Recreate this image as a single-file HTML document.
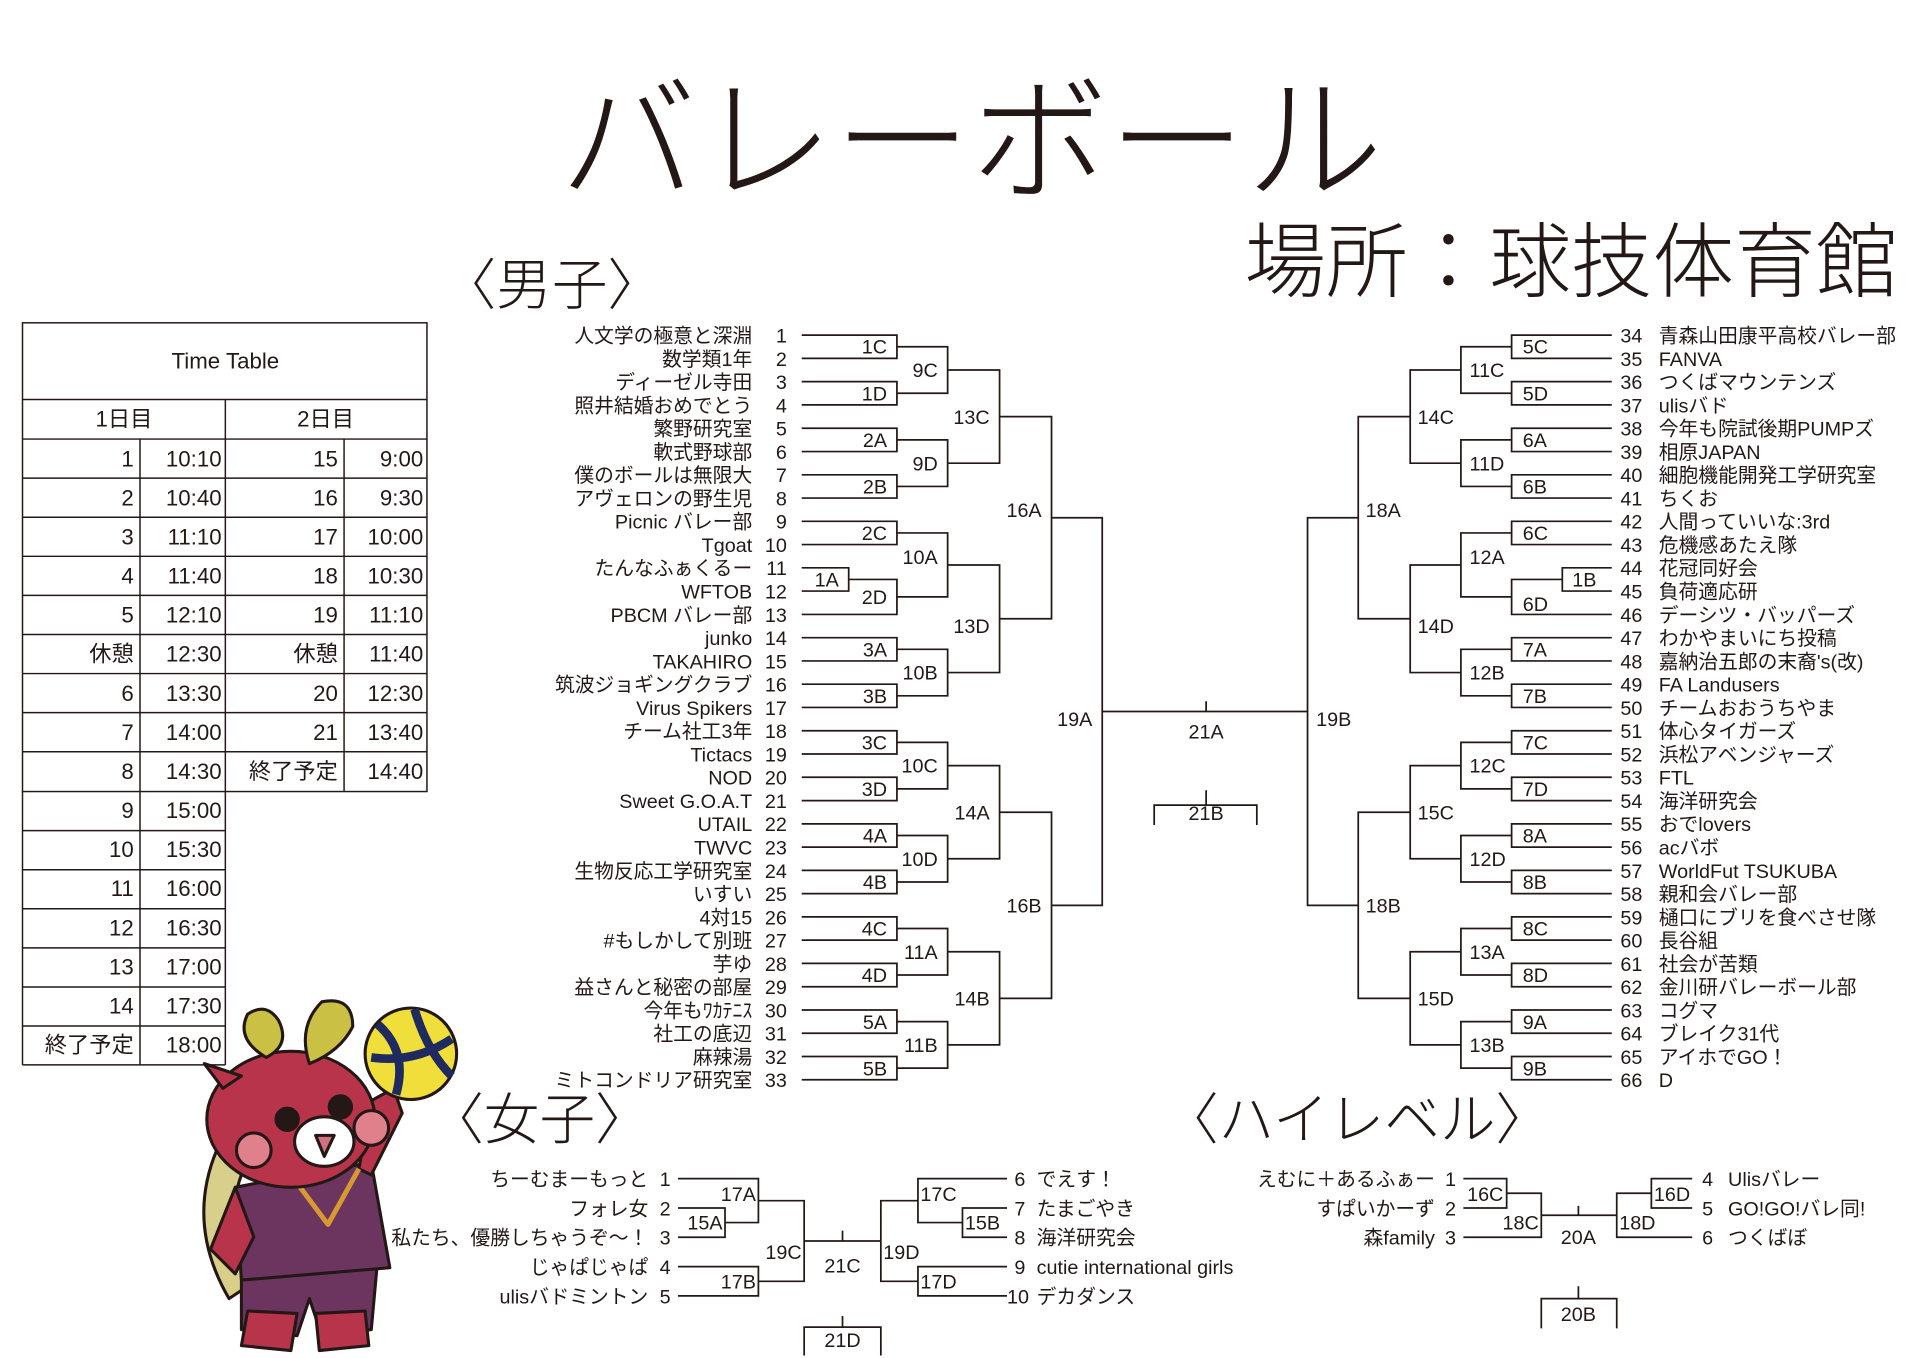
<!DOCTYPE html>
<html><head><meta charset="utf-8"><style>
html,body{margin:0;padding:0;background:#fff}
svg{display:block}
text{font-family:"Liberation Sans Narrow","Liberation Sans","Noto Sans CJK JP",sans-serif;fill:#231815}
.t{font-size:16px}
.l{font-size:16px}
.b{fill:none;stroke:#231815;stroke-width:1.4}
.tt{font-size:18px}
</style></head><body>
<svg width="1920" height="1358" viewBox="0 0 1552 1098" xmlns="http://www.w3.org/2000/svg">
<text x="785" y="153" text-anchor="middle" style="font-size:111px;font-family:'Noto Sans CJK JP',sans-serif;font-weight:300">バレーボール</text>
<text x="1006" y="235" style="font-size:66px;font-family:'Noto Sans CJK JP',sans-serif;font-weight:300">場所：球技体育館</text>
<text x="356" y="246" style="font-size:45px;font-family:'Noto Sans CJK JP',sans-serif;font-weight:300">〈男子〉</text>
<text x="346" y="921" style="font-size:45px;font-family:'Noto Sans CJK JP',sans-serif;font-weight:300">〈女子〉</text>
<text x="940" y="921" style="font-size:45px;font-family:'Noto Sans CJK JP',sans-serif;font-weight:300">〈ハイレベル〉</text>

<!-- Time table -->
<g class="b" style="stroke-width:1.2">
<rect x="18" y="261" width="327" height="379"/>
<line x1="18" y1="323" x2="345" y2="323"/>
<line x1="18" y1="355" x2="345" y2="355"/>
<line x1="182" y1="323" x2="182" y2="861"/>
<line x1="113" y1="355" x2="113" y2="861"/>
<line x1="278" y1="355" x2="278" y2="640"/>
<line x1="18" y1="640" x2="18" y2="861"/>
<line x1="18" y1="861" x2="182" y2="861"/>
<path d="M18 386.6H345M18 418.2H345M18 449.8H345M18 481.4H345M18 513H345M18 544.6H345M18 576.2H345M18 607.8H345M18 671.6H182M18 703.2H182M18 734.8H182M18 766.4H182M18 798H182M18 829.6H182"/>
</g>
<g class="tt">
<text x="182" y="298" text-anchor="middle">Time Table</text>
<text x="100" y="345" text-anchor="middle">1日目</text>
<text x="263" y="345" text-anchor="middle">2日目</text>
<g text-anchor="end">
<text x="108" y="377">1</text><text x="179" y="377">10:10</text><text x="273" y="377">15</text><text x="342" y="377">9:00</text>
<text x="108" y="408.6">2</text><text x="179" y="408.6">10:40</text><text x="273" y="408.6">16</text><text x="342" y="408.6">9:30</text>
<text x="108" y="440.2">3</text><text x="179" y="440.2">11:10</text><text x="273" y="440.2">17</text><text x="342" y="440.2">10:00</text>
<text x="108" y="471.8">4</text><text x="179" y="471.8">11:40</text><text x="273" y="471.8">18</text><text x="342" y="471.8">10:30</text>
<text x="108" y="503.4">5</text><text x="179" y="503.4">12:10</text><text x="273" y="503.4">19</text><text x="342" y="503.4">11:10</text>
<text x="108" y="535">休憩</text><text x="179" y="535">12:30</text><text x="273" y="535">休憩</text><text x="342" y="535">11:40</text>
<text x="108" y="566.6">6</text><text x="179" y="566.6">13:30</text><text x="273" y="566.6">20</text><text x="342" y="566.6">12:30</text>
<text x="108" y="598.2">7</text><text x="179" y="598.2">14:00</text><text x="273" y="598.2">21</text><text x="342" y="598.2">13:40</text>
<text x="108" y="629.8">8</text><text x="179" y="629.8">14:30</text><text x="273" y="629.8">終了予定</text><text x="342" y="629.8">14:40</text>
<text x="108" y="661.4">9</text><text x="179" y="661.4">15:00</text>
<text x="108" y="693">10</text><text x="179" y="693">15:30</text>
<text x="108" y="724.6">11</text><text x="179" y="724.6">16:00</text>
<text x="108" y="756.2">12</text><text x="179" y="756.2">16:30</text>
<text x="108" y="787.8">13</text><text x="179" y="787.8">17:00</text>
<text x="108" y="819.4">14</text><text x="179" y="819.4">17:30</text>
<text x="108" y="851">終了予定</text><text x="179" y="851">18:00</text>
</g></g>

<!-- Men left names -->
<g class="t" text-anchor="end">
<text x="608" y="277">人文学の極意と深淵</text><text x="636" y="277">1</text>
<text x="608" y="295.8">数学類1年</text><text x="636" y="295.8">2</text>
<text x="608" y="314.6">ディーゼル寺田</text><text x="636" y="314.6">3</text>
<text x="608" y="333.4">照井結婚おめでとう</text><text x="636" y="333.4">4</text>
<text x="608" y="352.3">繁野研究室</text><text x="636" y="352.3">5</text>
<text x="608" y="371.1">軟式野球部</text><text x="636" y="371.1">6</text>
<text x="608" y="389.9">僕のボールは無限大</text><text x="636" y="389.9">7</text>
<text x="608" y="408.7">アヴェロンの野生児</text><text x="636" y="408.7">8</text>
<text x="608" y="427.5">Picnic バレー部</text><text x="636" y="427.5">9</text>
<text x="608" y="446.3">Tgoat</text><text x="636" y="446.3">10</text>
<text x="608" y="465.1">たんなふぁくるー</text><text x="636" y="465.1">11</text>
<text x="608" y="483.9">WFTOB</text><text x="636" y="483.9">12</text>
<text x="608" y="502.8">PBCM バレー部</text><text x="636" y="502.8">13</text>
<text x="608" y="521.6">junko</text><text x="636" y="521.6">14</text>
<text x="608" y="540.4">TAKAHIRO</text><text x="636" y="540.4">15</text>
<text x="608" y="559.2">筑波ジョギングクラブ</text><text x="636" y="559.2">16</text>
<text x="608" y="578">Virus Spikers</text><text x="636" y="578">17</text>
<text x="608" y="596.8">チーム社工3年</text><text x="636" y="596.8">18</text>
<text x="608" y="615.6">Tictacs</text><text x="636" y="615.6">19</text>
<text x="608" y="634.4">NOD</text><text x="636" y="634.4">20</text>
<text x="608" y="653.3">Sweet G.O.A.T</text><text x="636" y="653.3">21</text>
<text x="608" y="672.1">UTAIL</text><text x="636" y="672.1">22</text>
<text x="608" y="690.9">TWVC</text><text x="636" y="690.9">23</text>
<text x="608" y="709.7">生物反応工学研究室</text><text x="636" y="709.7">24</text>
<text x="608" y="728.5">いすい</text><text x="636" y="728.5">25</text>
<text x="608" y="747.3">4対15</text><text x="636" y="747.3">26</text>
<text x="608" y="766.1">#もしかして別班</text><text x="636" y="766.1">27</text>
<text x="608" y="784.9">芋ゆ</text><text x="636" y="784.9">28</text>
<text x="608" y="803.8">益さんと秘密の部屋</text><text x="636" y="803.8">29</text>
<text x="608" y="822.6">今年もﾜｶﾃﾆｽ</text><text x="636" y="822.6">30</text>
<text x="608" y="841.4">社工の底辺</text><text x="636" y="841.4">31</text>
<text x="608" y="860.2">麻辣湯</text><text x="636" y="860.2">32</text>
<text x="608" y="879">ミトコンドリア研究室</text><text x="636" y="879">33</text>
</g>
<!-- Men right names -->
<g class="t">
<text x="1310" y="277">34</text><text x="1341" y="277">青森山田康平高校バレー部</text>
<text x="1310" y="295.8">35</text><text x="1341" y="295.8">FANVA</text>
<text x="1310" y="314.6">36</text><text x="1341" y="314.6">つくばマウンテンズ</text>
<text x="1310" y="333.4">37</text><text x="1341" y="333.4">ulisバド</text>
<text x="1310" y="352.3">38</text><text x="1341" y="352.3">今年も院試後期PUMPズ</text>
<text x="1310" y="371.1">39</text><text x="1341" y="371.1">相原JAPAN</text>
<text x="1310" y="389.9">40</text><text x="1341" y="389.9">細胞機能開発工学研究室</text>
<text x="1310" y="408.7">41</text><text x="1341" y="408.7">ちくお</text>
<text x="1310" y="427.5">42</text><text x="1341" y="427.5">人間っていいな:3rd</text>
<text x="1310" y="446.3">43</text><text x="1341" y="446.3">危機感あたえ隊</text>
<text x="1310" y="465.1">44</text><text x="1341" y="465.1">花冠同好会</text>
<text x="1310" y="483.9">45</text><text x="1341" y="483.9">負荷適応研</text>
<text x="1310" y="502.8">46</text><text x="1341" y="502.8">デーシツ・バッパーズ</text>
<text x="1310" y="521.6">47</text><text x="1341" y="521.6">わかやまいにち投稿</text>
<text x="1310" y="540.4">48</text><text x="1341" y="540.4">嘉納治五郎の末裔's(改)</text>
<text x="1310" y="559.2">49</text><text x="1341" y="559.2">FA Landusers</text>
<text x="1310" y="578">50</text><text x="1341" y="578">チームおおうちやま</text>
<text x="1310" y="596.8">51</text><text x="1341" y="596.8">体心タイガーズ</text>
<text x="1310" y="615.6">52</text><text x="1341" y="615.6">浜松アベンジャーズ</text>
<text x="1310" y="634.4">53</text><text x="1341" y="634.4">FTL</text>
<text x="1310" y="653.3">54</text><text x="1341" y="653.3">海洋研究会</text>
<text x="1310" y="672.1">55</text><text x="1341" y="672.1">おでlovers</text>
<text x="1310" y="690.9">56</text><text x="1341" y="690.9">acバボ</text>
<text x="1310" y="709.7">57</text><text x="1341" y="709.7">WorldFut TSUKUBA</text>
<text x="1310" y="728.5">58</text><text x="1341" y="728.5">親和会バレー部</text>
<text x="1310" y="747.3">59</text><text x="1341" y="747.3">樋口にブリを食べさせ隊</text>
<text x="1310" y="766.1">60</text><text x="1341" y="766.1">長谷組</text>
<text x="1310" y="784.9">61</text><text x="1341" y="784.9">社会が苦類</text>
<text x="1310" y="803.8">62</text><text x="1341" y="803.8">金川研バレーボール部</text>
<text x="1310" y="822.6">63</text><text x="1341" y="822.6">コグマ</text>
<text x="1310" y="841.4">64</text><text x="1341" y="841.4">ブレイク31代</text>
<text x="1310" y="860.2">65</text><text x="1341" y="860.2">アイホでGO！</text>
<text x="1310" y="879">66</text><text x="1341" y="879">D</text>
</g>

<!-- Men brackets -->
<g class="b">
<path d="M648 271H725V289.8H648M648 308.6H725V327.4H648M648 346.3H725V365.1H648M648 383.9H725V402.7H648M648 421.5H725V440.3H648M648 459.1H686V477.9H648M686 468.5H725V496.8H648M648 515.6H725V534.4H648M648 553.2H725V572H648M648 590.8H725V609.6H648M648 628.4H725V647.3H648M648 666.1H725V684.9H648M648 703.7H725V722.5H648M648 741.3H725V760.1H648M648 778.9H725V797.8H648M648 816.6H725V835.4H648M648 854.2H725V873H648"/>
<path d="M725 280.4H766V318H725M725 355.7H766V393.3H725M725 430.9H766V482.6H725M725 525H766V562.6H725M725 600.2H766V637.8H725M725 675.5H766V713.1H725M725 750.7H766V788.3H725M725 826H766V863.6H725"/>
<path d="M766 299.2H808V374.5H766M766 456.8H808V543.8H766M766 619H808V694.3H766M766 769.5H808V844.8H766"/>
<path d="M808 336.9H850V500.3H808M808 656.7H850V807.2H808"/>
<path d="M850 418.6H891V732H850M891 575.3H1057M1098 418.6H1057V732H1098"/>
<path d="M1303 271H1222V289.8H1303M1303 308.6H1222V327.4H1303M1303 346.3H1222V365.1H1303M1303 383.9H1222V402.7H1303M1303 421.5H1222V440.3H1303M1303 459.1H1263V477.9H1303M1263 468.5H1222V496.8H1303M1303 515.6H1222V534.4H1303M1303 553.2H1222V572H1303M1303 590.8H1222V609.6H1303M1303 628.4H1222V647.3H1303M1303 666.1H1222V684.9H1303M1303 703.7H1222V722.5H1303M1303 741.3H1222V760.1H1303M1303 778.9H1222V797.8H1303M1303 816.6H1222V835.4H1303M1303 854.2H1222V873H1303"/>
<path d="M1222 280.4H1181V318H1222M1222 355.7H1181V393.3H1222M1222 430.9H1181V482.6H1222M1222 525H1181V562.6H1222M1222 600.2H1181V637.8H1222M1222 675.5H1181V713.1H1222M1222 750.7H1181V788.3H1222M1222 826H1181V863.6H1222"/>
<path d="M1181 299.2H1140V374.5H1181M1181 456.8H1140V543.8H1181M1181 619H1140V694.3H1181M1181 769.5H1140V844.8H1181"/>
<path d="M1140 336.9H1098V500.3H1140M1140 656.7H1098V807.2H1140"/>
<path d="M975 567V575.3M975 639V651M933 667V651H1016V667"/>
</g>
<g class="l" text-anchor="end">
<text x="717" y="286">1C</text><text x="717" y="324">1D</text><text x="717" y="361.5">2A</text><text x="717" y="399">2B</text><text x="717" y="436.7">2C</text><text x="678" y="474.3">1A</text><text x="717" y="488.4">2D</text><text x="717" y="530.8">3A</text><text x="717" y="568.4">3B</text><text x="717" y="606">3C</text><text x="717" y="643.6">3D</text><text x="717" y="681.3">4A</text><text x="717" y="718.9">4B</text><text x="717" y="756.5">4C</text><text x="717" y="794.1">4D</text><text x="717" y="831.8">5A</text><text x="717" y="869.4">5B</text>
<text x="758" y="305">9C</text><text x="758" y="380.3">9D</text><text x="758" y="456">10A</text><text x="758" y="549.6">10B</text><text x="758" y="624.8">10C</text><text x="758" y="700.1">10D</text><text x="758" y="775.3">11A</text><text x="758" y="850.6">11B</text>
<text x="800" y="342.7">13C</text><text x="800" y="512">13D</text><text x="800" y="662.5">14A</text><text x="800" y="813">14B</text>
<text x="842" y="418">16A</text><text x="842" y="737.8">16B</text>
<text x="883" y="587">19A</text>
</g>
<g class="l">
<text x="1231" y="286">5C</text><text x="1231" y="324">5D</text><text x="1231" y="361.5">6A</text><text x="1231" y="399">6B</text><text x="1231" y="436.7">6C</text><text x="1271" y="474.3">1B</text><text x="1231" y="494">6D</text><text x="1231" y="530.8">7A</text><text x="1231" y="568.4">7B</text><text x="1231" y="606">7C</text><text x="1231" y="643.6">7D</text><text x="1231" y="681.3">8A</text><text x="1231" y="718.9">8B</text><text x="1231" y="756.5">8C</text><text x="1231" y="794.1">8D</text><text x="1231" y="831.8">9A</text><text x="1231" y="869.4">9B</text>
<text x="1188" y="305">11C</text><text x="1188" y="380.3">11D</text><text x="1188" y="456">12A</text><text x="1188" y="549.6">12B</text><text x="1188" y="624.8">12C</text><text x="1188" y="700.1">12D</text><text x="1188" y="775.3">13A</text><text x="1188" y="850.6">13B</text>
<text x="1146" y="342.7">14C</text><text x="1146" y="512">14D</text><text x="1146" y="662.5">15C</text><text x="1146" y="813">15D</text>
<text x="1104" y="418">18A</text><text x="1104" y="737.8">18B</text>
<text x="1064" y="587">19B</text>
</g>
<g class="l" text-anchor="middle"><text x="975" y="597">21A</text><text x="975" y="663">21B</text></g>

<!-- Women -->
<g class="t" text-anchor="end">
<text x="524" y="959">ちーむまーもっと</text><text x="542" y="959">1</text>
<text x="524" y="982.7">フォレ女</text><text x="542" y="982.7">2</text>
<text x="524" y="1006.4">私たち、優勝しちゃうぞ〜！</text><text x="542" y="1006.4">3</text>
<text x="524" y="1030.1">じゃぱじゃぱ</text><text x="542" y="1030.1">4</text>
<text x="524" y="1053.8">ulisバドミントン</text><text x="542" y="1053.8">5</text>
</g>
<g class="t">
<text x="820" y="959">6</text><text x="838" y="959">でえす！</text>
<text x="820" y="982.7">7</text><text x="838" y="982.7">たまごやき</text>
<text x="820" y="1006.4">8</text><text x="838" y="1006.4">海洋研究会</text>
<text x="820" y="1030.1">9</text><text x="838" y="1030.1">cutie international girls</text>
<text x="814" y="1053.8">10</text><text x="838" y="1053.8">デカダンス</text>
</g>
<g class="b">
<path d="M548 976.7H586V1000.4H548M548 953H613V988.5H586M548 1024.1H613V1047.8H548M613 970.8H650V1036H613M650 1003.4H712M681 995V1003.4"/>
<path d="M814 976.7H778V1000.4H814M814 953H742V988.5H778M814 1024.1H742V1047.8H814M742 970.8H712V1036H742"/>
<path d="M681 1064V1073M650 1096V1073H712V1096"/>
</g>
<g class="l">
<text x="584" y="994" text-anchor="end">15A</text><text x="611" y="971" text-anchor="end">17A</text><text x="611" y="1042" text-anchor="end">17B</text><text x="648" y="1018" text-anchor="end">19C</text>
<text x="780" y="994">15B</text><text x="744" y="971">17C</text><text x="744" y="1042">17D</text><text x="714" y="1018">19D</text>
<text x="681" y="1029" text-anchor="middle">21C</text><text x="681" y="1089" text-anchor="middle">21D</text>
</g>

<!-- High level -->
<g class="t" text-anchor="end">
<text x="1160" y="959">えむに＋あるふぁー</text><text x="1177" y="959">1</text>
<text x="1160" y="982.7">すぱいかーず</text><text x="1177" y="982.7">2</text>
<text x="1160" y="1006.4">森family</text><text x="1177" y="1006.4">3</text>
</g>
<g class="t">
<text x="1376" y="959">4</text><text x="1397" y="959">Ulisバレー</text>
<text x="1376" y="982.7">5</text><text x="1397" y="982.7">GO!GO!バレ同!</text>
<text x="1376" y="1006.4">6</text><text x="1397" y="1006.4">つくばぼ</text>
</g>
<g class="b">
<path d="M1183 953H1218V976.7H1183M1218 964.8H1246V1000.4H1183M1246 982.6H1307M1276 975V982.6"/>
<path d="M1368 953H1335V976.7H1368M1335 964.8H1307V1000.4H1368"/>
<path d="M1276 1040V1050M1246 1074V1050H1307V1074"/>
</g>
<g class="l">
<text x="1186" y="971">16C</text><text x="1244" y="994" text-anchor="end">18C</text><text x="1337" y="971">16D</text><text x="1309" y="994">18D</text>
<text x="1276" y="1006" text-anchor="middle">20A</text><text x="1276" y="1068" text-anchor="middle">20B</text>
</g>

<!-- Mascot -->
<g stroke="#231815" stroke-width="2.5" stroke-linejoin="round">
<path d="M175 930 Q150 990 185 1050 L200 1040 Q180 990 195 950 Z" fill="#d8d08a"/>
<path d="M195 1020 L305 1020 L300 1075 L260 1080 L250 1050 L240 1080 L195 1075 Z" fill="#6b3560"/>
<path d="M200 1060 L240 1062 L235 1092 L195 1088 Z" fill="#b8344a"/>
<path d="M255 1062 L295 1060 L298 1088 L258 1092 Z" fill="#b8344a"/>
<path d="M190 960 Q240 950 300 940 L315 1025 L195 1035 Z" fill="#6b3560"/>
<path d="M300 950 L325 900 L318 880 L300 890 L290 945 Z" fill="#b8344a"/>
<path d="M190 960 L170 1010 L190 1030 L205 1000 Z" fill="#b8344a"/>
<path d="M235 950 L265 990 L290 945" fill="none" stroke="#d89a30" stroke-width="4"/>
<ellipse cx="235" cy="905" rx="68" ry="55" fill="#b8344a"/>
<path d="M165 860 L180 880 L195 870 Z" fill="#b8344a"/>
<path d="M200 820 Q190 840 215 855 Q235 845 225 825 Q215 810 200 820 Z" fill="#c9c044"/>
<path d="M250 860 Q240 830 260 810 Q285 805 285 830 Q275 850 250 860 Z" fill="#c9c044"/>
<circle cx="332" cy="852" r="37" fill="#f0de3a"/>
<path d="M305 828 Q330 850 320 885 M335 816 Q345 850 365 870 M300 855 Q335 860 365 840" fill="none" stroke="#1e2a60" stroke-width="7"/>
<circle cx="205" cy="930" r="14" fill="#e0808a"/>
<circle cx="300" cy="912" r="14" fill="#e0808a"/>
<ellipse cx="262" cy="923" rx="24" ry="20" fill="#fff"/>
<path d="M255 918 L270 918 L262 935 Z" fill="#d07080"/>
<circle cx="232" cy="905" r="9" fill="#231815"/>
<circle cx="275" cy="895" r="9" fill="#231815"/>
</g>
</svg>
</body></html>
